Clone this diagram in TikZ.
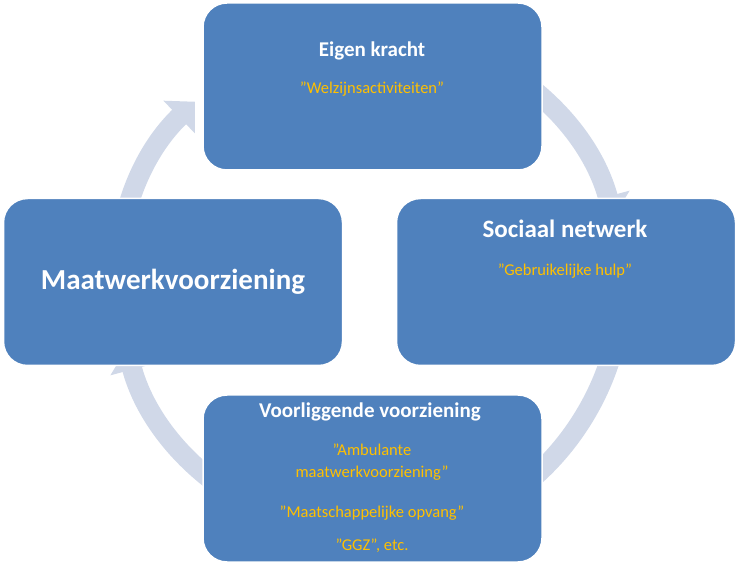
\documentclass[tikz,border=0pt]{standalone}
\usepackage{fontspec}
\setmainfont{Carlito}
\usetikzlibrary{arrows.meta}
\definecolor{boxblue}{HTML}{4F81BD}
\definecolor{arcblue}{HTML}{D0D8E8}
\definecolor{subor}{HTML}{FFC000}
\tikzset{
  cbox/.style={draw=white,line width=1.5pt,fill=boxblue,rounded corners=24pt,minimum width=339pt,minimum height=167pt,inner sep=0pt},
  arcline/.style={arcblue,line width=20pt,-{Triangle[length=22pt,width=44pt]}},
  ttl/.style={text=white,font=\bfseries},
  sub/.style={text=subor}
}
\begin{document}
\begin{tikzpicture}[x=1pt,y=1pt]
\useasboundingbox (0,0) rectangle (736,565);
\coordinate (c) at (370,282);
\draw[arcline] ([shift={(200:252)}]c) arc (200:134:252);
\draw[arcline] ([shift={(75:252)}]c) arc (75:15:252);
\draw[arcline] ([shift={(-15:252)}]c) arc (-15:-75:252);
\draw[arcline] ([shift={(-105:252)}]c) arc (-105:-165:252);
\node[cbox] (top) at (372.5,478.5) {};
\node[cbox] (right) at (566,283) {};
\node[cbox] (bot) at (372.5,86.5) {};
\node[cbox] (left) at (173,283) {};
\node[ttl,font=\bfseries\fontsize{21}{24}\selectfont] (t1) at (372,514) {Eigen kracht};
\node[sub,font=\fontsize{16.5}{20}\selectfont] (t2) at (372,476) {"Welzijnsactiviteiten"};
\node[ttl,font=\bfseries\fontsize{25}{28}\selectfont] (r1) at (565,336) {Sociaal netwerk};
\node[sub,font=\fontsize{16.5}{20}\selectfont] (r2) at (565,294) {"Gebruikelijke hulp"};
\node[ttl,font=\bfseries\fontsize{29}{32}\selectfont] (l1) at (173,283) {Maatwerkvoorziening};
\node[ttl,font=\bfseries\fontsize{21}{24}\selectfont] (b1) at (370,153) {Voorliggende voorziening};
\node[sub,font=\fontsize{16.5}{22}\selectfont,align=center] (b2) at (372,103) {"Ambulante\\maatwerkvoorziening"};
\node[sub,font=\fontsize{16.5}{20}\selectfont] (b3) at (372,52) {"Maatschappelijke opvang"};
\node[sub,font=\fontsize{16.5}{20}\selectfont] (b4) at (372,19) {"GGZ", etc.};
\end{tikzpicture}
\end{document}
